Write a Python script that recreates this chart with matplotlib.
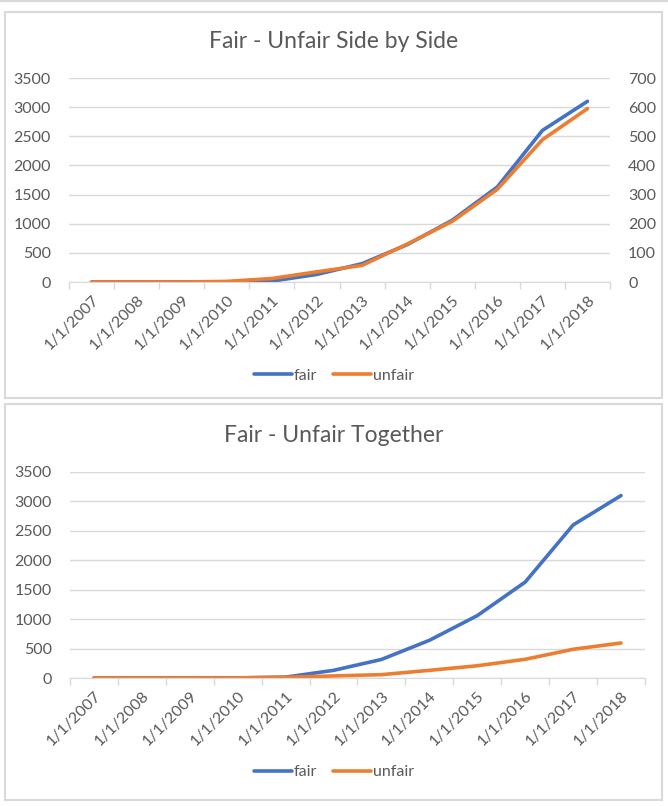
import matplotlib.pyplot as plt
from matplotlib.patches import Rectangle

# data
dates = ["1/1/2007", "1/1/2008", "1/1/2009", "1/1/2010", "1/1/2011", "1/1/2012",
         "1/1/2013", "1/1/2014", "1/1/2015", "1/1/2016", "1/1/2017", "1/1/2018"]
fair = [0, 0, 0, 2, 15, 130, 315, 640, 1060, 1630, 2600, 3100]
unfair = [0, 0, 0, 2, 12, 35, 57, 130, 208, 318, 488, 595]

blue = "#4472C4"
orange = "#ED7D31"
txt = "#595959"
grid = "#D9D9D9"

plt.rcParams['font.family'] = ['Lato', 'DejaVu Sans']

W, H = 668, 806
fig = plt.figure(figsize=(W / 100, H / 100), dpi=100)


def px_axes(x0, y_top, x1, y_bot):
    return fig.add_axes([x0 / W, 1 - y_bot / H, (x1 - x0) / W, (y_bot - y_top) / H])


def style_axis(ax, ymax, ystep):
    x = list(range(len(dates)))
    ax.set_xlim(-0.5, len(dates) - 0.5)
    ax.set_ylim(0, ymax)
    ax.set_yticks(range(0, ymax + 1, ystep))
    ax.set_xticks(x)
    ax.set_xticklabels(dates, rotation=45, ha="right", rotation_mode="anchor")
    ax.set_xticks([i - 0.5 for i in range(len(dates) + 1)], minor=True)
    ax.tick_params(axis="x", which="major", length=0, pad=8, labelsize=11.5, colors=txt)
    ax.tick_params(axis="x", which="minor", length=5, color=grid, width=1)
    ax.tick_params(axis="y", length=0, pad=13, labelsize=11.5, colors=txt)
    for s in ["top", "left", "right"]:
        ax.spines[s].set_visible(False)
    ax.spines["bottom"].set_color(grid)
    ax.grid(axis="y", color=grid, linewidth=1)
    ax.set_axisbelow(True)


# frames
fig.add_artist(Rectangle((5 / W, 1 - 398 / H), 657 / W, 386 / H, transform=fig.transFigure,
                         fill=False, edgecolor=grid, linewidth=1.5))
fig.add_artist(Rectangle((5 / W, 1 - 800 / H), 657 / W, 396 / H, transform=fig.transFigure,
                         fill=False, edgecolor=grid, linewidth=1.5))
fig.add_artist(plt.Line2D([0, 1], [1 - 1 / H, 1 - 1 / H], transform=fig.transFigure,
                          color=grid, linewidth=1.5))

x = list(range(len(dates)))

# top: side by side (secondary axis)
ax1 = px_axes(69, 78, 610, 282)
style_axis(ax1, 3500, 500)
l1, = ax1.plot(x, fair, color=blue, linewidth=2.6, solid_capstyle="round", label="fair")
ax1b = ax1.twinx()
ax1b.set_ylim(0, 700)
ax1b.set_yticks(range(0, 701, 100))
ax1b.tick_params(axis="y", length=0, pad=13, labelsize=11.5, colors=txt)
for s in ax1b.spines.values():
    s.set_visible(False)
l2, = ax1b.plot(x, unfair, color=orange, linewidth=2.6, solid_capstyle="round", label="unfair")
fig.text(0.5, 1 - 41 / H, "Fair - Unfair Side by Side", ha="center", va="center",
         fontsize=16.5, color=txt)
fig.legend(handles=[l1, l2], loc="center", bbox_to_anchor=(0.5, 1 - 376 / H), ncol=2,
           frameon=False, fontsize=11.5, labelcolor=txt, handlelength=2.4,
           handletextpad=0.1, columnspacing=1.0)

# bottom: together
ax2 = px_axes(70, 472, 645, 678)
style_axis(ax2, 3500, 500)
m1, = ax2.plot(x, fair, color=blue, linewidth=2.6, solid_capstyle="round", label="fair")
m2, = ax2.plot(x, unfair, color=orange, linewidth=2.6, solid_capstyle="round", label="unfair")
fig.text(0.5, 1 - 436 / H, "Fair - Unfair Together", ha="center", va="center",
         fontsize=16.5, color=txt)
fig.legend(handles=[m1, m2], loc="center", bbox_to_anchor=(0.5, 1 - 772 / H), ncol=2,
           frameon=False, fontsize=11.5, labelcolor=txt, handlelength=2.4,
           handletextpad=0.1, columnspacing=1.0)

fig.savefig("out.png", dpi=100)
